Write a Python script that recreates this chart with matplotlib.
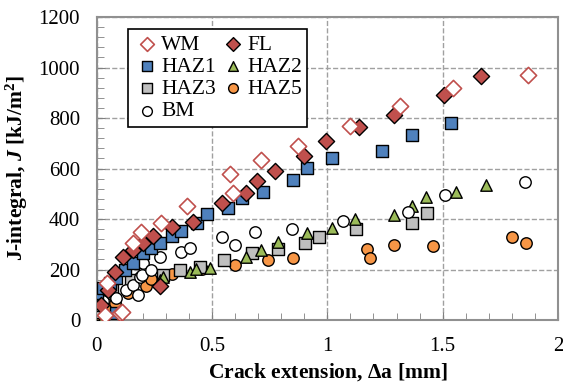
import matplotlib.pyplot as plt
from matplotlib.ticker import MultipleLocator

plt.rcParams['font.family'] = ['Liberation Serif', 'DejaVu Serif']
plt.rcParams['mathtext.fontset'] = 'custom'
plt.rcParams['mathtext.it'] = 'Liberation Serif:italic:bold'
plt.rcParams['mathtext.bf'] = 'Liberation Serif:bold'

# data: crack extension [mm], J [kJ/m2]
wm_x = [0.035, 0.042, 0.1, 0.107, 0.157, 0.191, 0.278, 0.389, 0.577, 0.591, 0.714, 0.873, 1.098, 1.315, 1.546, 1.871]
wm_j = [20, 146, 26, 30, 304, 347, 384, 450, 579, 505, 635, 690, 770, 846, 917, 971]

fl_x = [0.02, 0.05, 0.08, 0.114, 0.157, 0.201, 0.244, 0.273, 0.324, 0.418, 0.545, 0.649, 0.693, 0.772, 0.898, 0.996, 1.138, 1.289, 1.505, 1.666]
fl_j = [60, 120, 190, 251, 278, 304, 331, 135, 370, 390, 463, 503, 549, 591, 648, 708, 763, 813, 890, 968]

haz1_x = [0.0, 0.027, 0.056, 0.085, 0.085, 0.121, 0.157, 0.201, 0.237, 0.273, 0.324, 0.367, 0.435, 0.479, 0.57, 0.628, 0.722, 0.852, 0.91, 1.022, 1.236, 1.368, 1.538]
haz1_j = [107, 126, 146, 165, 26, 198, 225, 264, 284, 304, 331, 351, 386, 419, 443, 483, 509, 556, 602, 641, 668, 731, 780]

haz2_x = [0.03, 0.092, 0.273, 0.288, 0.403, 0.432, 0.49, 0.649, 0.714, 0.787, 0.912, 1.018, 1.119, 1.289, 1.368, 1.426, 1.556, 1.686]
haz2_j = [15, 26, 159, 172, 192, 201, 205, 251, 278, 311, 344, 366, 400, 417, 452, 489, 509, 536]

haz3_x = [0.0, 0.0, 0.0, 0.013, 0.056, 0.064, 0.15, 0.288, 0.36, 0.447, 0.551, 0.671, 0.787, 0.902, 0.963, 1.124, 1.369, 1.43]
haz3_j = [33, 60, 79, 93, 106, 119, 159, 179, 198, 212, 238, 264, 280, 304, 328, 360, 386, 423]

haz5_x = [0.013, 0.027, 0.035, 0.049, 0.064, 0.078, 0.136, 0.215, 0.237, 0.327, 0.454, 0.599, 0.743, 0.852, 1.174, 1.187, 1.29, 1.459, 1.802, 1.861]
haz5_j = [20, 20, 40, 33, 53, 66, 106, 135, 161, 181, 201, 218, 238, 245, 280, 247, 296, 294, 327, 304]

bm_x = [0.027, 0.085, 0.128, 0.157, 0.179, 0.187, 0.194, 0.201, 0.237, 0.273, 0.367, 0.403, 0.541, 0.599, 0.685, 0.845, 1.066, 1.351, 1.512, 1.857]
bm_j = [75, 86, 119, 139, 99, 172, 179, 225, 198, 251, 271, 284, 328, 298, 347, 360, 393, 427, 496, 545]

fig = plt.figure(figsize=(5.63, 3.87), dpi=100)
ax = fig.add_axes([0.172, 0.173, 0.819, 0.783])

ms = 68
ax.scatter(haz5_x, haz5_j, s=ms, marker='o', facecolor='#F79646', edgecolor='black', lw=1, label='HAZ5', zorder=3)
ax.scatter(haz3_x, haz3_j, s=ms, marker='s', facecolor='#BFBFBF', edgecolor='black', lw=1, label='HAZ3', zorder=3)
ax.scatter(haz2_x, haz2_j, s=ms, marker='^', facecolor='#9BBB59', edgecolor='black', lw=1, label='HAZ2', zorder=3)
ax.scatter(bm_x, bm_j, s=ms, marker='o', facecolor='white', edgecolor='black', lw=1, label='BM', zorder=3)
ax.scatter(haz1_x, haz1_j, s=ms, marker='s', facecolor='#4F81BD', edgecolor='black', lw=1, label='HAZ1', zorder=3)
ax.scatter(fl_x, fl_j, s=ms, marker='D', facecolor='#C0504D', edgecolor='black', lw=1, label='FL', zorder=3)
ax.scatter(wm_x, wm_j, s=ms, marker='D', facecolor='white', edgecolor='#C0504D', lw=1.2, label='WM', zorder=3)

ax.set_xlim(0, 2)
ax.set_ylim(0, 1200)
ax.xaxis.set_major_locator(MultipleLocator(0.5))
ax.xaxis.set_minor_locator(MultipleLocator(0.1))
ax.yaxis.set_major_locator(MultipleLocator(200))
ax.yaxis.set_minor_locator(MultipleLocator(40))
ax.set_xticks([0, 0.5, 1, 1.5, 2])
ax.set_xticklabels(['0', '0.5', '1', '1.5', '2'])
ax.tick_params(which='both', direction='in', color='#808080', labelsize=15)
ax.tick_params(which='major', length=6, pad=12)
ax.tick_params(which='minor', length=5)
ax.grid(True, which='major', color='#A0A0A0', ls='--', lw=1)
for s in ax.spines.values():
    s.set_color('#909090')
    s.set_linewidth(1.5)

ax.set_xlabel(r'Crack extension, $\mathbf{\Delta}$a [mm]', fontsize=15.5, fontweight='bold', labelpad=4)
ax.set_ylabel(r'J-integral, $J$ [kJ/m$^\mathbf{2}$]', fontsize=15.5, fontweight='bold', labelpad=6)

h, l = ax.get_legend_handles_labels()
order = ['WM', 'HAZ1', 'HAZ3', 'BM', 'FL', 'HAZ2', 'HAZ5']
hd = dict(zip(l, h))
leg = ax.legend([hd[k] for k in order], order, ncol=2, loc='upper left',
                bbox_to_anchor=(0.067, 0.96), fontsize=15.5, frameon=True, fancybox=False,
                framealpha=1, handletextpad=0.0, columnspacing=0.15, labelspacing=0.1,
                borderpad=0.25, handlelength=1.3, borderaxespad=0, markerscale=0.85)
leg.get_frame().set_edgecolor('black')
leg.get_frame().set_linewidth(1.2)

fig.savefig('out.png', dpi=100)
